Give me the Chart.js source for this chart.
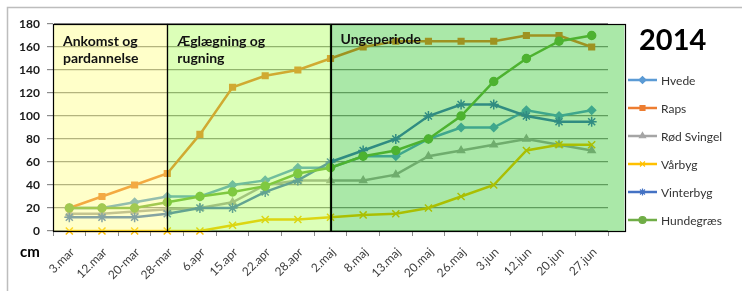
<!DOCTYPE html>
<html>
<head>
<meta charset="utf-8">
<script src="https://cdn.jsdelivr.net/npm/chart.js@4"></script>
<style>
  html, body { margin: 0; padding: 0; background: #fff; }
  #wrap { position: relative; width: 742px; height: 291px; }
</style>
</head>
<body>
<div id="wrap"><canvas id="chart" width="742" height="291"></canvas></div>
<script>
const labels = ['3.mar', '12.mar', '20-mar', '28-mar', '6.apr', '15.apr', '22.apr', '28.apr', '2.maj',
  '8.maj', '13.maj', '20.maj', '26.maj', '3.jun', '12.jun', '20.jun', '27.jun']

const hvede      = [20, 20, 25, 30, 30, 40, 44, 55, 55, 65, 65, 80, 90, 90, 105, 100, 105]
const raps       = [20, 30, 40, 50, 84, 125, 135, 140, 150, 160, 165, 165, 165, 165, 170, 170, 160]
const roedSvingel = [15, 15, 17, 19, 20, 25, 40, 44, 44, 44, 49, 65, 70, 75, 80, 75, 70]
const vaarbyg    = [0, 0, 0, 0, 0, 5, 10, 10, 12, 14, 15, 20, 30, 40, 70, 75, 75]
const vinterbyg  = [12, 12, 12, 15, 20, 20, 34, 44, 60, 70, 80, 100, 110, 110, 100, 95, 95]
const hundegraes = [20, 20, 20, 25, 30, 34, 39, 50, 55, 65, 70, 80, 100, 130, 150, 165, 170]

const yTicks = [0, 20, 40, 60, 80, 100, 120, 140, 160, 180]

// periods: start/end index on the category axis
const periods = [
  { lines: ['Ankomst og', 'pardannelse'], from: 0, to: 3, fill: 'rgba(255,255,100,0.35)' },
  { lines: ['Æglægning og', 'rugning'], from: 3, to: 8, fill: 'rgba(155,255,52,0.35)' },
  { lines: ['Ungeperiode'], from: 8, to: 17, fill: 'rgba(12,189,6,0.35)' },
]

const FONT = 'Lato, "Open Sans", sans-serif'

function series(label, data, color, pointStyle, radius, order) {
  return {
    label, data, order,
    borderColor: color, backgroundColor: color,
    pointBackgroundColor: color, pointBorderColor: color,
    borderWidth: 2.5, pointStyle, pointRadius: radius, pointBorderWidth: 1.5,
    tension: 0, clip: false,
  }
}

const datasets = [
  series('Hvede', hvede, '#5B9BD5', 'rectRot', 4, 5),
  series('Raps', raps, '#ED7D31', 'rect', 4, 4),
  series('Rød Svingel', roedSvingel, '#A5A5A5', 'triangle', 4, 3),
  series('Vårbyg', vaarbyg, '#FFC000', 'crossRot', 5, 2),
  series('Vinterbyg', vinterbyg, '#4472C4', 'star', 5, 1),
  series('Hundegræs', hundegraes, '#70AD47', 'circle', 4, 0),
]

const decor = {
  id: 'decor',
  beforeDraw(chart) {
    const ctx = chart.ctx
    ctx.save()
    ctx.strokeStyle = '#BDBDBD'
    ctx.lineWidth = 1.5
    ctx.beginPath()
    ctx.moveTo(7.5, 291)
    ctx.lineTo(7.5, 7.5)
    ctx.lineTo(742, 7.5)
    ctx.stroke()
    ctx.restore()
  },
  afterDatasetsDraw(chart) {
    const { ctx, scales: { x, y } } = chart
    const top = y.getPixelForValue(180)
    const bot = y.getPixelForValue(0)
    const step = x.getPixelForValue(1) - x.getPixelForValue(0)
    const px = i => i === 0 ? x.left : x.getPixelForValue(16) + (i - 16) * step
    ctx.save()
    periods.forEach(p => {
      const l = p.from === 0 ? x.left : x.getPixelForValue(p.from)
      const r = p.to >= 17 ? px(17) : x.getPixelForValue(p.to)
      ctx.fillStyle = p.fill
      ctx.fillRect(l, top, r - l, bot - top)
      ctx.strokeStyle = '#000'
      ctx.lineWidth = 1.2
      ctx.strokeRect(Math.round(l) + 0.5, Math.round(top) + 0.5, Math.round(r - l), Math.round(bot - top))
      ctx.fillStyle = '#111'
      ctx.font = 'bold 14px ' + FONT
      ctx.textBaseline = 'alphabetic'
      p.lines.forEach((t, k) => ctx.fillText(t, l + 10, top + (p.lines.length > 1 ? 22 : 20) + k * 17))
    })
    ctx.restore()
  },
  afterDraw(chart) {
    const ctx = chart.ctx
    ctx.save()
    // year
    ctx.fillStyle = '#000'
    ctx.font = 'bold 29px ' + FONT
    ctx.fillText('2014', 639, 50)
    // unit
    ctx.font = 'bold 15px ' + FONT
    ctx.fillText('cm', 20, 257)
    // legend
    chart.data.datasets.forEach((ds, i) => {
      const ly = 80 + i * 28
      ctx.strokeStyle = ds.borderColor
      ctx.lineWidth = 2.5
      ctx.beginPath()
      ctx.moveTo(628, ly)
      ctx.lineTo(657, ly)
      ctx.stroke()
      ctx.fillStyle = ds.borderColor
      ctx.lineWidth = 1.2
      Chart.helpers.drawPoint(ctx, { pointStyle: ds.pointStyle, radius: 3.5, borderWidth: 1.2, rotation: 0 }, 642.5, ly)
      ctx.fillStyle = '#333'
      ctx.font = '12px ' + FONT
      ctx.textBaseline = 'middle'
      ctx.fillText(ds.label, 661, ly + 1)
    })
    ctx.restore()
  },
}

new Chart(document.getElementById('chart'), {
  type: 'line',
  data: { labels, datasets },
  plugins: [decor],
  options: {
    responsive: false,
    animation: false,
    layout: { padding: { left: 0, right: 134, top: 24, bottom: 0 } },
    plugins: { legend: { display: false }, tooltip: { enabled: false } },
    scales: {
      x: {
        offset: true,
        grid: { offset: true, drawOnChartArea: false, drawTicks: true, tickLength: 5, color: '#8C8C8C' },
        border: { color: '#000' },
        ticks: {
          autoSkip: false, minRotation: 45, maxRotation: 45, padding: 9, labelOffset: 3,
          color: '#404040', font: { family: FONT, size: 12 },
        },
        afterFit(scale) { scale.height = 60 },
      },
      y: {
        min: 0, max: 180,
        afterBuildTicks(scale) { scale.ticks = yTicks.map(v => ({ value: v })) },
        grid: { color: '#8C8C8C', tickLength: 6, lineWidth: 1.2 },
        border: { color: '#000' },
        ticks: { padding: 7, color: '#1a1a1a', font: { family: FONT, size: 12, weight: 'bold' } },
        afterFit(scale) { scale.width = 53 },
      },
    },
  },
})
</script>
</body>
</html>
